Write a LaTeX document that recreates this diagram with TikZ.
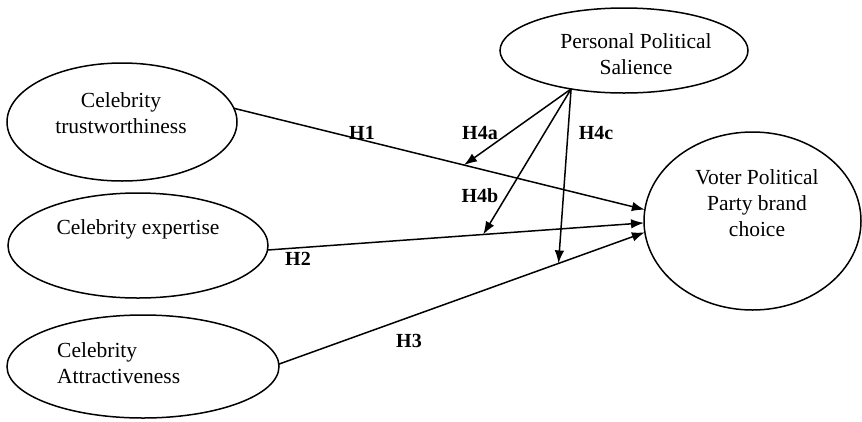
\documentclass[tikz,border=0pt]{standalone}
\usepackage{fontspec}
\setmainfont{Liberation Serif}
\usepackage{tikz}
\usetikzlibrary{arrows.meta,shapes.geometric}
\tikzset{
  construct/.style = {draw, ellipse, line width=1.5pt, inner sep=0pt, outer sep=0pt},
  ctext/.style     = {align=center, inner sep=0pt, font=\fontsize{21.5}{26}\selectfont},
  hyp/.style       = {inner sep=0pt, font=\fontsize{20}{24}\selectfont\bfseries},
  link/.style      = {-{Latex[length=13pt,width=9.5pt]}, line width=1.5pt},
}
\begin{document}
\begin{tikzpicture}[x=1pt,y=-1pt]
\useasboundingbox (0,0) rectangle (862,421);
% constructs
\node[construct, minimum width=230, minimum height=118] (trust) at (122,122) {};
\node[construct, minimum width=260, minimum height=105] (expert) at (138,245.5) {};
\node[construct, minimum width=272, minimum height=103] (attract) at (143,366.5) {};
\node[construct, minimum width=217, minimum height=178] (voter) at (752.5,221) {};
\node[construct, minimum width=248, minimum height=85] (sal) at (624,50.5) {};
\node[ctext] (trust-txt) at (121,113) {Celebrity\\trustworthiness};
\node[ctext] (expert-txt) at (138,229) {Celebrity expertise};
\node[ctext, align=left, anchor=west] (attract-txt) at (57,363) {Celebrity\\Attractiveness};
\node[ctext] (voter-txt) at (757,203) {Voter Political\\Party brand\\choice};
\node[ctext] (sal-txt) at (636,54) {Personal Political\\Salience};
% direct effects
\draw[link] (trust.7) -- coordinate[pos=0.56] (m1) (voter.174);
\draw[link] (expert.-2) -- coordinate[pos=0.573] (m2) (voter.181);
\draw[link] (attract.1.5) -- coordinate[pos=0.764] (m3) (voter.186);
% moderation
\coordinate (src) at (sal.216.5);
\draw[link] (src) -- (m1);
\draw[link] (src) -- (m2);
\draw[link] (src) -- (m3);
% labels
\node[hyp] (h1) at (362,133) {H1};
\node[hyp] (h2) at (298,259) {H2};
\node[hyp] (h3) at (409,341) {H3};
\node[hyp] (h4a) at (480,133) {H4a};
\node[hyp] (h4b) at (480,196) {H4b};
\node[hyp] (h4c) at (596,133) {H4c};
\end{tikzpicture}
\end{document}
